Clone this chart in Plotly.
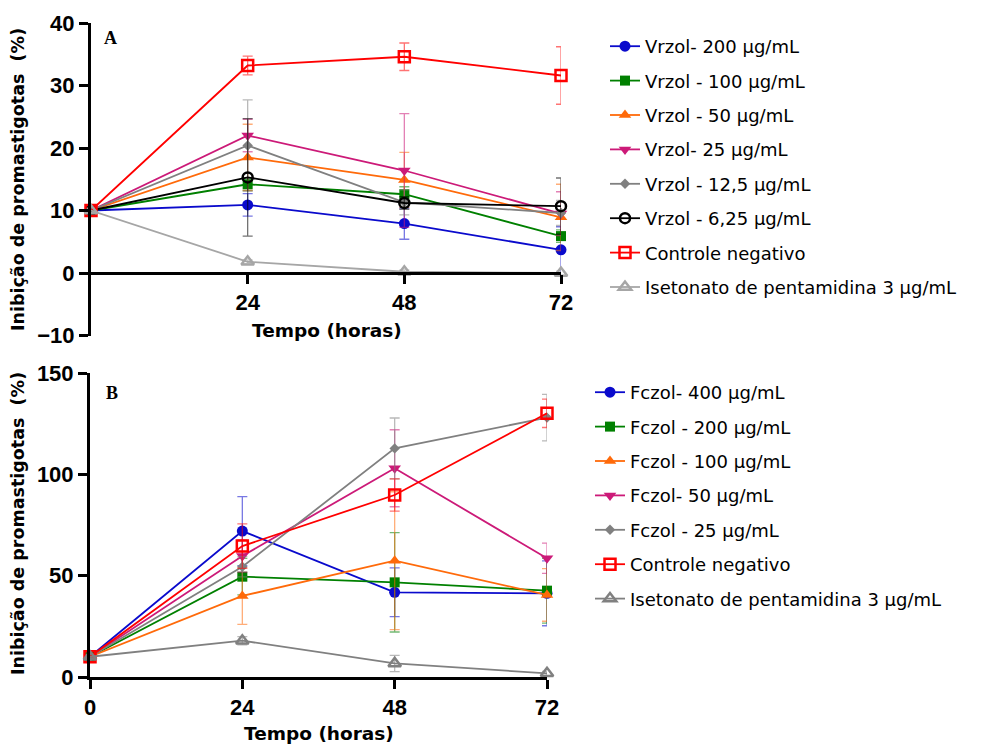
import plotly.graph_objects as go

# page body has an 8px margin; the figure starts 8px in from the window corner
OFF = 8
W, H = 990 - OFF, 747 - OFF


def px(x):
    return (x - OFF) / W


def py(y):
    return 1 - (y - OFF) / H


# ---------------- data ----------------
hours = [0, 24, 48, 72]

# Panel A (Vrzol)
a_names = ["Vrzol- 200 µg/mL", "Vrzol - 100 µg/mL", "Vrzol - 50 µg/mL", "Vrzol- 25 µg/mL",
           "Vrzol - 12,5 µg/mL", "Vrzol - 6,25 µg/mL", "Controle negativo",
           "Isetonato de pentamidina 3 µg/mL"]
a_v200 = [10, 10.9, 7.9, 3.7]
a_v100 = [10, 14.2, 12.6, 5.9]
a_v50 = [10, 18.5, 14.9, 8.9]
a_v25 = [10, 22.0, 16.4, 9.5]
a_v12 = [10, 20.4, 11.3, 9.6]
a_v6 = [10, 15.3, 11.2, 10.7]
a_ctrl = [10, 33.2, 34.6, 31.6]
a_pent = [10, 1.8, 0.2, 0.0]
a_e200 = [0, 1.8, 2.5, 3.7]
a_e100 = [0, 1.0, 1.2, 1.0]
a_e50 = [0, 5.3, 4.4, 5.3]
a_e25 = [0, 2.6, 9.1, 3.5]
a_e12 = [0, 7.3, 2.0, 2.0]
a_e6 = [0, 9.4, 1.0, 4.5]
a_ectrl = [0, 1.5, 2.2, 4.6]
a_epent = [0, 0.3, 0.3, 0.3]

# Panel B (Fczol)
b_names = ["Fczol- 400 µg/mL", "Fczol - 200 µg/mL", "Fczol - 100 µg/mL", "Fczol- 50 µg/mL",
           "Fczol - 25 µg/mL", "Controle negativo", "Isetonato de pentamidina 3 µg/mL"]
b_f400 = [10, 72.0, 41.8, 41.3]
b_f200 = [10, 49.5, 46.7, 42.6]
b_f100 = [10, 40.0, 57.4, 40.5]
b_f50 = [10, 59.7, 103.0, 58.6]
b_f25 = [10, 54.4, 112.8, 128.0]
b_ctrl = [10, 64.6, 89.8, 130.1]
b_pent = [10, 17.9, 6.7, 1.8]
b_e400 = [0, 17, 12, 16]
b_e200 = [0, 9, 24.5, 16]
b_e100 = [0, 14, 34, 13]
b_e50 = [0, 8, 19, 7.5]
b_e25 = [0, 5, 15, 11.5]
b_ectrl = [0, 11, 8, 7]
b_epent = [0, 2, 4, 1]

a_ticks_y = [-10, 0, 10, 20, 30, 40]
a_ticks_x = [24, 48, 72]
b_ticks_y = [0, 50, 100, 150]
b_ticks_x = [0, 24, 48, 72]

# ---------------- styles ----------------
BLUE = "#0A0ACC"
GREEN = "#008000"
ORANGE = "#FF6A0A"
MAGENTA = "#CC1A78"
GRAY = "#808080"
LGRAY = "#A6A6A6"
BLACK = "#000000"
RED = "#FF0000"


def rgba(hexc, a):
    h = hexc.lstrip("#")
    return "rgba(%d,%d,%d,%.2f)" % (int(h[0:2], 16), int(h[2:4], 16), int(h[4:6], 16), a)


def trace(name, y, err, color, symbol, size, xa, ya, legend, group):
    return go.Scatter(
        x=hours, y=y, name=name, mode="lines+markers",
        xaxis=xa, yaxis=ya, legend=legend, legendgroup=group,
        line=dict(color=color, width=1.8),
        marker=dict(symbol=symbol, size=size, color=color,
                    line=dict(color=color, width=2.5 if "open" in symbol else 0)),
        error_y=dict(type="data", array=err, visible=True, color=rgba(color, 0.55),
                     thickness=1.3, width=5),
        cliponaxis=False,
    )


fig = go.Figure()

a_series = [
    (a_v200, a_e200, BLUE, "circle", 11),
    (a_v100, a_e100, GREEN, "square", 10),
    (a_v50, a_e50, ORANGE, "triangle-up", 11),
    (a_v25, a_e25, MAGENTA, "triangle-down", 11),
    (a_v12, a_e12, GRAY, "diamond", 8),
    (a_v6, a_e6, BLACK, "circle-open", 10),
    (a_ctrl, a_ectrl, RED, "square-open", 11),
    (a_pent, a_epent, LGRAY, "triangle-up-open", 11),
]
for i, (n, (y, e, c, s, sz)) in enumerate(zip(a_names, a_series)):
    fig.add_trace(trace(n, y, e, c, s, sz, "x", "y", "legend", "a%d" % i))

b_series = [
    (b_f400, b_e400, BLUE, "circle", 11),
    (b_f200, b_e200, GREEN, "square", 10),
    (b_f100, b_e100, ORANGE, "triangle-up", 11),
    (b_f50, b_e50, MAGENTA, "triangle-down", 11),
    (b_f25, b_e25, GRAY, "diamond", 8),
    (b_ctrl, b_ectrl, RED, "square-open", 11),
    (b_pent, b_epent, GRAY, "triangle-up-open", 11),
]
for i, (n, (y, e, c, s, sz)) in enumerate(zip(b_names, b_series)):
    fig.add_trace(trace(n, y, e, c, s, sz, "x2", "y2", "legend2", "b%d" % i))

TICKFONT = dict(family="Liberation Sans, Arial, sans-serif", size=22, color="black", weight="bold")
axis_common = dict(showline=True, linewidth=3, linecolor="black", ticks="outside",
                   ticklen=9, tickwidth=3, tickcolor="black", showgrid=False,
                   zeroline=False, tickfont=TICKFONT)

fig.update_layout(
    xaxis=dict(domain=[px(91), px(561)], range=[0, 72], tickvals=a_ticks_x,
               anchor="free", position=py(273), **axis_common),
    yaxis=dict(domain=[py(335.5), py(23)], range=[-10, 40],
               tickvals=a_ticks_y, anchor="x", **axis_common),
    xaxis2=dict(domain=[px(90), px(547)], range=[0, 72], tickvals=b_ticks_x,
                anchor="y2", **axis_common),
    yaxis2=dict(domain=[py(677), py(373)], range=[0, 150],
                tickvals=b_ticks_y, anchor="x2", **axis_common),
)

LEGFONT = dict(family="DejaVu Sans, sans-serif", size=18, color="black")
fig.update_layout(
    width=W, height=H,
    margin=dict(l=0, r=0, t=0, b=0, autoexpand=False),
    paper_bgcolor="white", plot_bgcolor="white",
    legend=dict(x=px(605), y=py(28), xanchor="left", yanchor="top",
                font=LEGFONT, tracegroupgap=8, bgcolor="rgba(0,0,0,0)"),
    legend2=dict(x=px(590), y=py(374), xanchor="left", yanchor="top",
                 font=LEGFONT, tracegroupgap=8, bgcolor="rgba(0,0,0,0)"),
)

TITLEFONT = dict(family="DejaVu Sans, sans-serif", size=17.5, color="black", weight="bold")
SERIF = dict(family="Liberation Serif, Times New Roman, serif", size=18, color="black", weight="bold")
ann = [
    dict(text="Inibição de promastigotas  (%)", x=px(18), y=py(180), textangle=-90, font=TITLEFONT),
    dict(text="Inibição de promastigotas  (%)", x=px(18), y=py(524), textangle=-90, font=TITLEFONT),
    dict(text="Tempo (horas)", x=px(327), y=py(330), font=dict(TITLEFONT, size=18.5)),
    dict(text="Tempo (horas)", x=px(319), y=py(733), font=dict(TITLEFONT, size=18.5)),
    dict(text="A", x=px(110), y=py(38), font=SERIF),
    dict(text="B", x=px(112), y=py(393), font=SERIF),
]
for a in ann:
    fig.add_annotation(xref="paper", yref="paper", showarrow=False,
                       xanchor="center", yanchor="middle", **a)

fig.write_html("out.html")
